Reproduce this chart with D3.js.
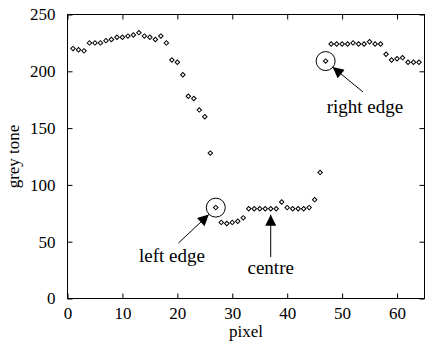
<!DOCTYPE html>
<html>
<head>
<meta charset="utf-8">
<script src="https://cdn.jsdelivr.net/npm/d3@7"></script>
<style>
  body { margin: 0; background: #fff; }
  svg { display: block; font-family: "Liberation Serif", "Times New Roman", serif; }
</style>
</head>
<body>
<svg id="chart" width="425" height="345"></svg>
<script>
// grey tone per pixel along the scan line (pixel 1..64)
const pixels = d3.range(1, 65);
const greyTone = [
  220, 219, 218, 225, 225, 225, 227, 228, 230, 230,
  231, 232, 234, 231, 230, 228, 231, 225, 210, 208,
  197, 178, 176, 166, 160, 128, 80, 67, 66, 67,
  68, 71, 79, 79, 79, 79, 79, 79, 85, 80,
  79, 79, 79, 80, 87, 111, 209, 224, 224, 224,
  224, 225, 224, 224, 226, 224, 224, 215, 210, 211,
  212, 208, 208, 208
];
const xTicks = [0, 10, 20, 30, 40, 50, 60];
const yTicks = [0, 50, 100, 150, 200, 250];

// annotations: label, data point it refers to
const notes = [
  { text: "left edge", px: 27 },
  { text: "centre", px: 37 },
  { text: "right edge", px: 47 }
];
const circled = [27, 47];

const mLeft = 67.5, mRight = 424.5, mTop = 14.5, mBottom = 298.5;
const svg = d3.select("#chart");

const x = d3.scaleLinear().domain([0, 65]).range([mLeft, mRight]);
const y = d3.scaleLinear().domain([0, 250]).range([mBottom, mTop]);

svg.append("defs").append("marker")
  .attr("id", "head")
  .attr("viewBox", "0 0 10 10")
  .attr("refX", 10).attr("refY", 5)
  .attr("markerWidth", 15).attr("markerHeight", 11)
  .attr("markerUnits", "userSpaceOnUse")
  .attr("orient", "auto")
  .append("path").attr("d", "M0,0L10,5L0,10z").attr("fill", "#000");

// frame
svg.append("rect")
  .attr("x", mLeft).attr("y", mTop)
  .attr("width", mRight - mLeft).attr("height", mBottom - mTop)
  .attr("fill", "none").attr("stroke", "#000");

const tickLen = 5;
const fontSize = 17;

// axes (ticks inward on all four sides)
const gx = svg.append("g").attr("transform", `translate(0,${mBottom})`)
  .call(d3.axisBottom(x).tickValues(xTicks).tickSizeInner(-tickLen).tickSizeOuter(0).tickPadding(8));
const gxTop = svg.append("g").attr("transform", `translate(0,${mTop})`)
  .call(d3.axisTop(x).tickValues(xTicks).tickSizeInner(-tickLen).tickSizeOuter(0).tickFormat(""));
const gy = svg.append("g").attr("transform", `translate(${mLeft},0)`)
  .call(d3.axisLeft(y).tickValues(yTicks).tickSizeInner(-tickLen).tickSizeOuter(0).tickPadding(12));
const gyRight = svg.append("g").attr("transform", `translate(${mRight},0)`)
  .call(d3.axisRight(y).tickValues(yTicks).tickSizeInner(-tickLen).tickSizeOuter(0).tickFormat(""));

[gx, gxTop, gy, gyRight].forEach(g => {
  g.select(".domain").remove();
  g.selectAll("text").attr("font-family", "Liberation Serif, serif").attr("font-size", fontSize).attr("fill", "#000");
});

// axis labels
svg.append("text")
  .attr("x", x(32.5)).attr("y", 337)
  .attr("text-anchor", "middle").attr("font-size", fontSize)
  .text("pixel");
svg.append("text")
  .attr("transform", `translate(19,${(mTop + mBottom) / 2}) rotate(-90)`)
  .attr("text-anchor", "middle").attr("font-size", fontSize)
  .text("grey tone");

// data points: small open diamonds
const data = pixels.map((p, i) => ({ p, v: greyTone[i] }));
svg.append("g").selectAll("path").data(data).enter().append("path")
  .attr("d", d3.symbol(d3.symbolSquare, 10))
  .attr("transform", d => `translate(${x(d.p)},${y(d.v)}) rotate(45)`)
  .attr("fill", "#fff").attr("stroke", "#000").attr("stroke-width", 1);

// circles around edge points
svg.append("g").selectAll("circle").data(circled).enter().append("circle")
  .attr("cx", p => x(p)).attr("cy", p => y(greyTone[p - 1]))
  .attr("r", 9.5)
  .attr("fill", "none").attr("stroke", "#000");

// annotation arrows and labels
const ann = svg.append("g").attr("font-size", 19);
// left edge
ann.append("line")
  .attr("x1", x(20.2)).attr("y1", 243).attr("x2", x(27) - 7).attr("y2", y(80) + 7)
  .attr("stroke", "#000").attr("marker-end", "url(#head)");
ann.append("text").attr("x", 172).attr("y", 262).attr("text-anchor", "middle").text(notes[0].text);
// centre
ann.append("line")
  .attr("x1", x(37)).attr("y1", 257).attr("x2", x(37)).attr("y2", y(79) + 6)
  .attr("stroke", "#000").attr("marker-end", "url(#head)");
ann.append("text").attr("x", x(37)).attr("y", 274).attr("text-anchor", "middle").text(notes[1].text);
// right edge
ann.append("line")
  .attr("x1", x(53.8)).attr("y1", 92).attr("x2", x(47) + 7).attr("y2", y(209) + 6)
  .attr("stroke", "#000").attr("marker-end", "url(#head)");
ann.append("text").attr("x", 365).attr("y", 113).attr("text-anchor", "middle").text(notes[2].text);
</script>
</body>
</html>
